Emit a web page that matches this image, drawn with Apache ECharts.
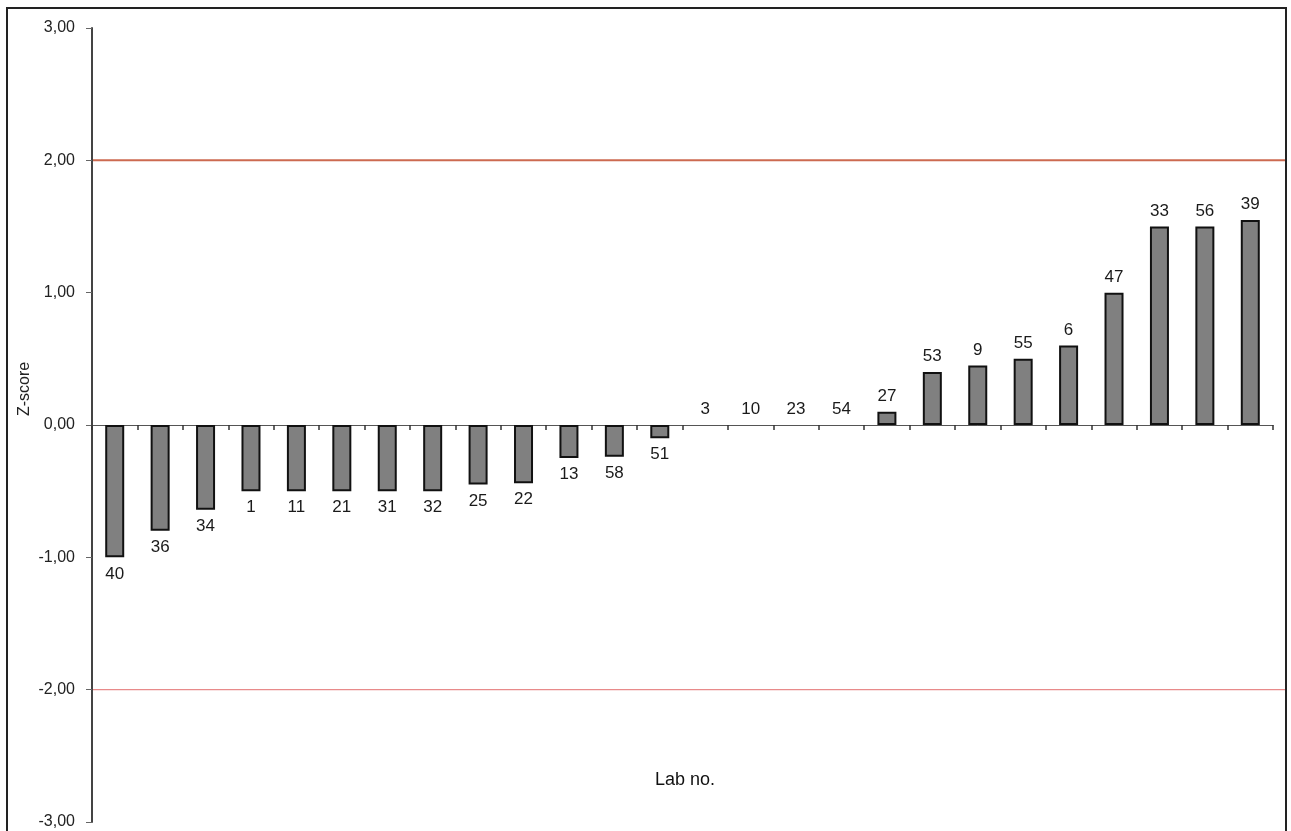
<!DOCTYPE html>
<html>
<head>
<meta charset="utf-8">
<script src="https://cdn.jsdelivr.net/npm/echarts@6/dist/echarts.min.js"></script>
<style>
html,body{margin:0;padding:0;background:#fff;}
#chart{width:1291px;height:831px;}
</style>
</head>
<body>
<div id="chart"></div>
<script>
const labs = ['40','36','34','1','11','21','31','32','25','22','13','58','51','3','10','23','54','27','53','9','55','6','47','33','56','39'];
const zscores = [-1.00,-0.80,-0.64,-0.50,-0.50,-0.50,-0.50,-0.50,-0.45,-0.44,-0.25,-0.24,-0.10,0,0,0,0,0.10,0.40,0.45,0.50,0.60,1.00,1.50,1.50,1.55];
const limits = [2, -2];
const yTicks = [-3, -2, -1, 0, 1, 2, 3];

const chart = echarts.init(document.getElementById('chart'));
const font = 'Liberation Sans, Arial, sans-serif';

const option = {
  backgroundColor: '#ffffff',
  animation: false,
  grid: { left: 92, right: 18, top: 28, bottom: 9, containLabel: false },
  xAxis: {
    type: 'category',
    data: labs,
    axisLine: { onZero: true, lineStyle: { color: '#555', width: 1 } },
    axisTick: { show: true, alignWithLabel: false, length: 5, lineStyle: { color: '#333', width: 1.5 } },
    axisLabel: { show: false },
    splitLine: { show: false }
  },
  yAxis: {
    type: 'value',
    min: yTicks[0],
    max: yTicks[yTicks.length - 1],
    interval: 1,
    axisLine: { show: true, lineStyle: { color: '#444', width: 2 } },
    axisTick: { show: true, length: 6, lineStyle: { color: '#666', width: 1 } },
    axisLabel: {
      formatter: v => v.toFixed(2).replace('.', ','),
      fontFamily: font, fontSize: 16, color: '#222', margin: 17
    },
    splitLine: { show: false }
  },
  series: [{
    type: 'bar',
    barWidth: 19,
    data: zscores.map(v => ({
      value: v,
      itemStyle: v === 0 ? { borderWidth: 0, color: 'rgba(0,0,0,0)' } : undefined,
      label: {
        show: true,
        position: v < 0 ? 'bottom' : 'top',
        distance: v < 0 ? 8 : 7,
        formatter: '{b}',
        fontFamily: font, fontSize: 17, color: '#1a1a1a'
      }
    })),
    itemStyle: { color: '#808080', borderColor: '#111', borderWidth: 2 }
  }]
};
chart.setOption(option);

function addGraphics() {
  const rightEdge = 1285;
  const g = [];
  limits.forEach((v, i) => {
    const y = chart.convertToPixel({ yAxisIndex: 0 }, v);
    g.push({
      type: 'line',
      shape: { x1: 93, y1: y, x2: rightEdge, y2: y },
      style: { stroke: i === 0 ? '#cc6a50' : '#e88a8a', lineWidth: i === 0 ? 2 : 1.2 },
      z: 5
    });
  });
  g.push({
    type: 'text', x: 25, y: 389, rotation: Math.PI / 2,
    style: { text: 'Z-score', fontFamily: font, fontSize: 16, fill: '#222', textAlign: 'center', textVerticalAlign: 'middle' }
  });
  g.push({
    type: 'text', x: 685, y: 780,
    style: { text: 'Lab no.', fontFamily: font, fontSize: 18, fill: '#111', textAlign: 'center', textVerticalAlign: 'middle' }
  });
  g.push({
    type: 'rect',
    shape: { x: 7, y: 8, width: 1279, height: 840 },
    style: { fill: 'none', stroke: '#222', lineWidth: 2 },
    z: 10
  });
  chart.setOption({ graphic: g });
}
addGraphics();
</script>
</body>
</html>
